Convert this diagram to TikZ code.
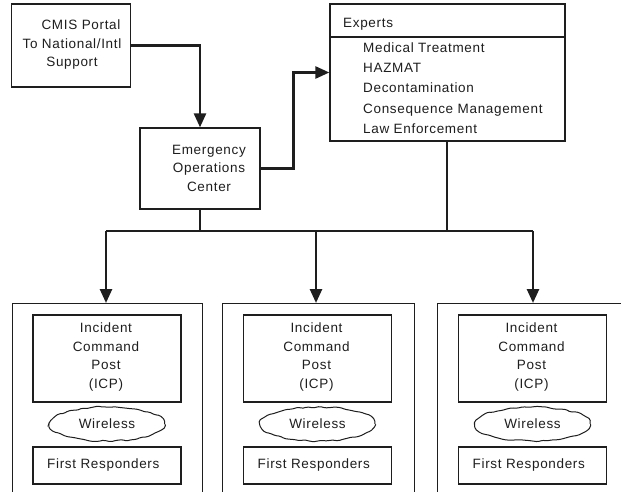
\documentclass[tikz,border=0pt]{standalone}
\usepackage{fontspec}
\setmainfont[LetterSpace=5]{Liberation Sans}
\usetikzlibrary{arrows.meta,shapes.geometric,decorations.pathmorphing}
\definecolor{ink}{HTML}{1E1E1E}
\tikzset{
  box/.style={draw=ink, line width=1.3pt, rectangle, inner sep=0pt},
  txt/.style={text=ink, font=\fontsize{13.5}{18.5}\selectfont, align=center, inner sep=0pt},
  thin/.style={draw=ink, line width=1.3pt},
  thickline/.style={draw=ink, line width=2.6pt},
  arr/.style={thickline, -{Triangle[width=12pt,length=14pt]}},
  wire/.style={draw=ink, line width=1pt, ellipse, minimum width=115pt, minimum height=34pt, inner sep=0pt,
    decorate, decoration={random steps, segment length=5pt, amplitude=1pt}, rounded corners=1.5pt,
    text=ink, font=\fontsize{13.5}{16}\selectfont}
}
\begin{document}
\begin{tikzpicture}[x=1pt,y=-1pt]
\useasboundingbox (0,0) rectangle (621,492);
\clip (0,0) rectangle (621,492);
\fill[white] (0,0) rectangle (621,492);

% top boxes
\node[box, minimum width=119pt, minimum height=83pt] (cmis) at (71,45.5) {};
\node[txt] (cmist) at (72,45) {\hspace*{18pt}CMIS Portal\\To National/Intl\\Support};
\node[box, minimum width=120pt, minimum height=81pt] (eoc) at (200,168.5) {};
\node[txt] (eoct) at (209,168) {Emergency\\Operations\\Center};
\node[box, minimum width=235pt, minimum height=137pt] (exp) at (447.5,72.5) {};
\coordinate (dl) at (330,37);
\coordinate (dr) at (565,37);
\draw[thin] (dl) -- (dr);
\node[txt, anchor=west] (expt) at (343,24) {Experts};
\node[txt, anchor=west, align=left, font=\fontsize{13.5}{20.2}\selectfont] (expl) at (363,88)
  {Medical Treatment\\HAZMAT\\Decontamination\\Consequence Management\\Law Enforcement};

% connectors on top
\draw[arr] (cmis.east) -| (eoc.north);
\draw[arr] (eoc.east) -- ++(33,0) |- (exp.west);

% bus
\coordinate (b1) at (106,231);
\coordinate (b2) at (316,231);
\coordinate (b3) at (533,231);
\coordinate (be) at (447,231);
\coordinate (bo) at (200,231);
\draw[thin] (eoc.south) -- (bo);
\draw[thin] (exp.south -| be) -- (be);
\draw[thin] (b1) -- (b3);

% bottom groups
\foreach \i/\l/\r/\c/\a in {1/12/202/107/106, 2/222/414/317.5/316, 3/437/630/532.5/533}{
  \node[box, anchor=north west, minimum width={\r-\l}, minimum height=220pt] (out\i) at (\l,303) {};
  \node[box, minimum width=148pt, minimum height=87pt] (icp\i) at (\c,358.5) {};
  \node[txt] (icpt\i) at (\c-1,357) {Incident\\Command\\Post\\(ICP)};
  \node[wire] (w\i) at (\c,424) {Wireless};
  \node[box, minimum width=148pt, minimum height=37pt] (fr\i) at (\c,465.5) {};
  \node[txt, anchor=west] (frt\i) at (\c-60,465.5) {First Responders};
}
\draw[arr] (b1) -- (b1 |- out1.north);
\draw[arr] (b2) -- (b2 |- out2.north);
\draw[arr] (b3) -- (b3 |- out3.north);
\end{tikzpicture}
\end{document}
